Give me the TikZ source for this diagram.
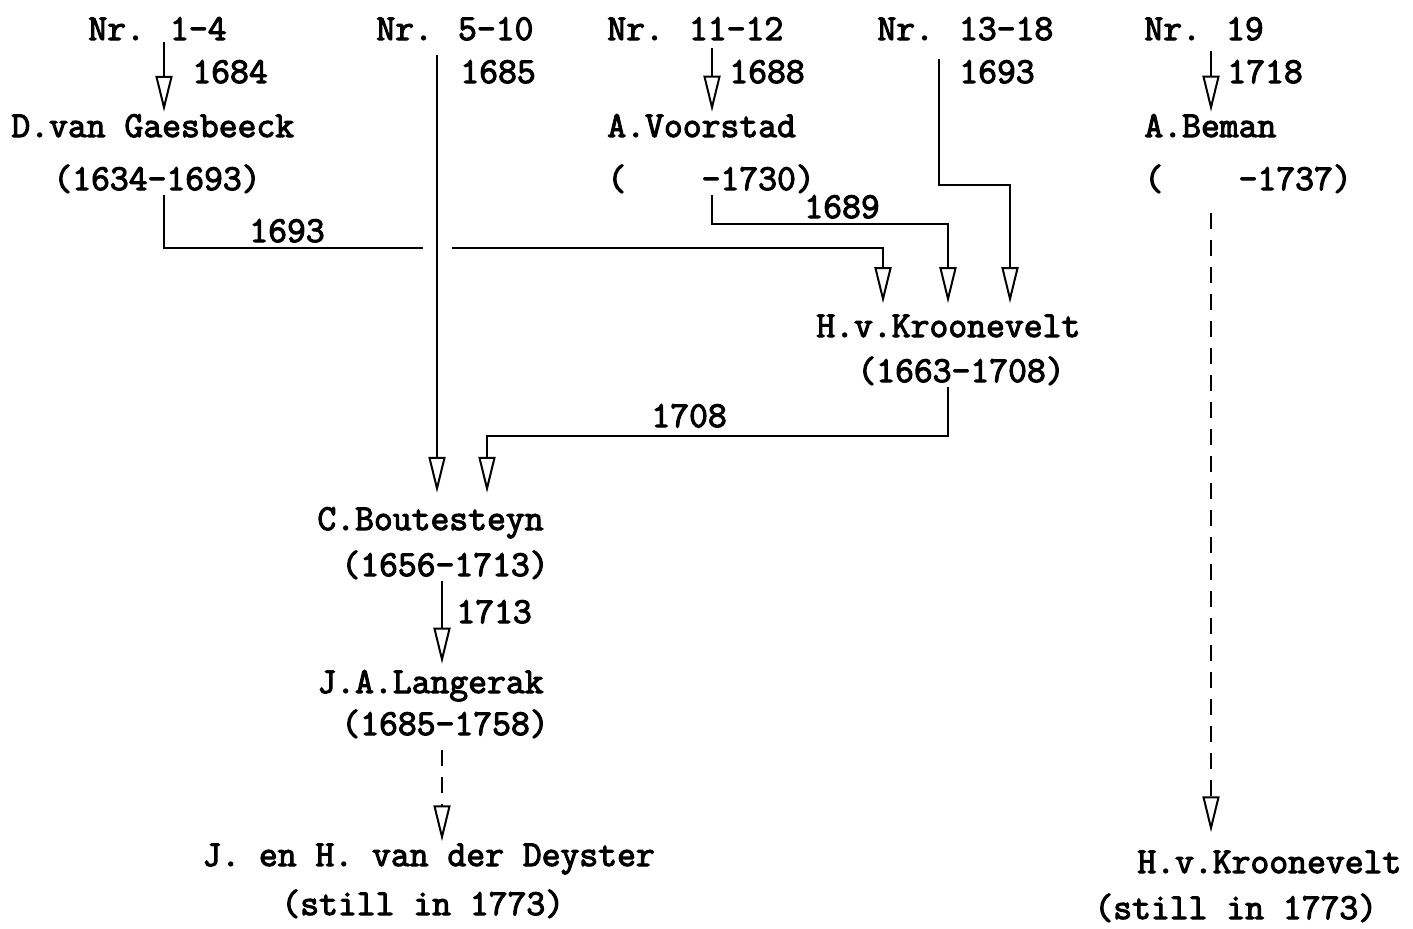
\documentclass[tikz,border=0pt]{standalone}
\usepackage{fontspec}
\newfontfamily\typer{Latin Modern Mono}[FakeBold=3]
\usepackage{tikz}
\usetikzlibrary{arrows.meta}

\begin{document}
\begin{tikzpicture}[
    x=0.5pt, y=-0.5pt,
    typed/.style={font=\typer\fontsize{18.3}{22}\selectfont, inner sep=1pt, anchor=base west},
    line/.style={line width=1pt},
    arrow/.style={line, -{Triangle[open, length=18pt, width=8.5pt]}},
    dasharrow/.style={arrow, dash pattern=on 8pt off 5.5pt},
  ]
    \useasboundingbox (0,0) rectangle (1413,928);

    \node[typed] (nr1)  at (86,40)   {Nr. 1-4};
    \node[typed] (nr5)  at (374,40)  {Nr. 5-10};
    \node[typed] (nr11) at (605,40)  {Nr. 11-12};
    \node[typed] (nr13) at (875,40)  {Nr. 13-18};
    \node[typed] (nr19) at (1142,40) {Nr. 19};

    \node[typed] (y1684)  at (190,83)  {1684};
    \node[typed] (y1685)  at (458,83)  {1685};
    \node[typed] (y1688)  at (727,83)  {1688};
    \node[typed] (y1693a) at (957,83)  {1693};
    \node[typed] (y1718)  at (1225,83) {1718};

    \node[typed] (gaes)   at (9,137)    {D.van Gaesbeeck};
    \node[typed] (gaesd)  at (51,190)   {(1634-1693)};
    \node[typed] (voor)   at (605,137)  {A.Voorstad};
    \node[typed] (voord)  at (605,190)  {(\phantom{0000}-1730)};
    \node[typed] (beman)  at (1142,137) {A.Beman};
    \node[typed] (bemand) at (1142,190) {(\phantom{0000}-1737)};

    \node[typed] (y1693) at (247,242) {1693};
    \node[typed] (y1689) at (802,218) {1689};

    \node[typed] (kroon)  at (814,337) {H.v.Kroonevelt};
    \node[typed] (kroond) at (855,382) {(1663-1708)};
    \node[typed] (y1708)  at (649,427) {1708};

    \node[typed] (bout)  at (315,530) {C.Boutesteyn};
    \node[typed] (boutd) at (339,576) {(1656-1713)};
    \node[typed] (y1713) at (454,623) {1713};
    \node[typed] (lang)  at (315,693) {J.A.Langerak};
    \node[typed] (langd) at (339,735) {(1685-1758)};

    \node[typed] (deyst)   at (200,866)  {J. en H. van der Deyster};
    \node[typed] (deystd)  at (279,915)  {(still in 1773)};
    \node[typed] (kroonr)  at (1135,873) {H.v.Kroonevelt};
    \node[typed] (kroonrd) at (1092,919) {(still in 1773)};

    \coordinate (c1) at (164,0);
    \coordinate (c2) at (437,0);
    \coordinate (c3) at (712,0);
    \coordinate (c4) at (939,0);
    \coordinate (c5) at (1211,0);
    \coordinate (c6) at (442,0);
    \coordinate (hopL) at (423,248);
    \coordinate (hopR) at (452,248);
    \coordinate (k1) at (883,248);
    \coordinate (k2) at (948,224);
    \coordinate (k3) at (1010,185);
    \coordinate (b1) at (487,436);

    \draw[arrow] (nr1.south -| c1) -- (gaes.north -| c1);
    \draw[arrow, shorten <=6pt, shorten >=6pt] (nr5.south -| c2) -- (bout.north -| c2);
    \draw[arrow, shorten <=3pt] (nr11.south -| c3) -- (voor.north -| c3);
    \draw[arrow, shorten <=4pt] (nr19.south -| c5) -- (beman.north -| c5);

    \draw[line] (gaesd.south -| c1) |- (hopL);
    \draw[arrow, shorten >=4.5pt] (hopR) -| (kroon.north -| k1);
    \draw[arrow, shorten >=4.5pt] (voord.south -| c3) |- (k2) -- (kroon.north -| k2);
    \draw[arrow, shorten <=8pt, shorten >=4.5pt] (nr13.south -| c4) |- (k3) -- (kroon.north -| k3);

    \draw[arrow, shorten >=6pt] (kroond.south -| k2) |- (b1) -- (bout.north -| b1);
    \draw[arrow, shorten >=2pt] (boutd.south -| c6) -- (lang.north -| c6);
    \draw[dasharrow, shorten <=5pt] (langd.south -| c6) -- (deyst.north -| c6);
    \draw[dasharrow, shorten <=9pt, shorten >=8pt] (bemand.south -| c5) -- (kroonr.north -| c5);
  \end{tikzpicture}
\end{document}
